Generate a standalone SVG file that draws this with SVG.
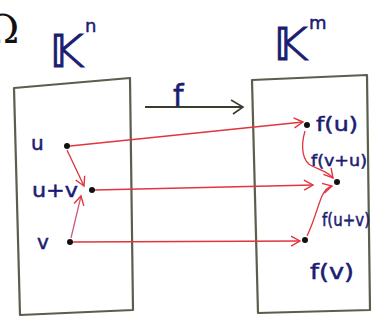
<svg xmlns="http://www.w3.org/2000/svg" width="378" height="321" viewBox="0 0 378 321">
<style>
.box{fill:none;stroke:#5b5e4c;stroke-width:2.2;stroke-linejoin:round}
.lbl{font-family:"DejaVu Sans",sans-serif;fill:#1c1c72;stroke:#1c1c72;stroke-width:0.5}
.red{fill:none;stroke:#e2343e;stroke-width:1.3}
.dot{fill:#111}
</style>
<defs>
<marker id="ar" markerWidth="12" markerHeight="12" refX="10" refY="6" orient="auto" markerUnits="userSpaceOnUse">
<path d="M1,1 L10,6 L1,11" fill="none" stroke="#e2343e" stroke-width="1.4"/>
</marker>
<marker id="ak" markerWidth="16" markerHeight="16" refX="14" refY="8" orient="auto" markerUnits="userSpaceOnUse">
<path d="M2,1 L14,8 L4,15" fill="none" stroke="#3a3d2e" stroke-width="1.6"/>
</marker>
</defs>
<rect width="378" height="321" fill="#fff"/>
<text x="-14" y="43" style="font-family:'DejaVu Serif',serif;font-size:40px;fill:#111">Ω</text>
<g id="domain">
<path class="box" d="M14,88 L130,78 L133,310 L20,315 Z"/>
<text class="lbl" x="50" y="67" style="font-size:44px;stroke-width:1">𝕂</text>
<text class="lbl" x="85" y="32" style="font-size:18px">n</text>
</g>
<g id="codomain">
<path class="box" d="M252,80 L367,75 L370,310 L258,313 Z"/>
<text class="lbl" x="274" y="60" style="font-size:44px;stroke-width:1">𝕂</text>
<text class="lbl" x="309" y="29" style="font-size:18px">m</text>
</g>
<g id="u"><circle class="dot" cx="67" cy="146" r="3"/><text class="lbl" x="31" y="150" style="font-size:20px">u</text></g>
<g id="uv"><circle class="dot" cx="92" cy="190" r="3"/><text class="lbl" x="32" y="197" style="font-size:20px" textLength="46" lengthAdjust="spacingAndGlyphs">u+v</text></g>
<g id="v"><circle class="dot" cx="70" cy="242" r="3"/><text class="lbl" x="37" y="249" style="font-size:20px">v</text></g>
<g id="fu"><circle class="dot" cx="307" cy="125" r="3"/><text class="lbl" x="316" y="131" style="font-size:20px" textLength="42" lengthAdjust="spacingAndGlyphs">f(u)</text></g>
<g id="fuv"><circle class="dot" cx="337" cy="182" r="3"/><text class="lbl" x="311" y="166" style="font-size:16px" textLength="56" lengthAdjust="spacingAndGlyphs">f(v+u)</text></g>
<g id="fv"><circle class="dot" cx="305" cy="240" r="3"/><text class="lbl" x="310" y="279" style="font-size:22px" textLength="44" lengthAdjust="spacingAndGlyphs">f(v)</text></g>
<text class="lbl" x="322" y="226" style="font-size:17px" textLength="48" lengthAdjust="spacingAndGlyphs">f(u+v)</text>
<g id="connectors">
<path d="M145,107 L243,107" fill="none" stroke="#3a3d2e" stroke-width="1.8" marker-end="url(#ak)"/>
<text class="lbl" x="173" y="106" style="font-size:30px">f</text>
<path class="red" d="M70,146 L303,122" marker-end="url(#ar)"/>
<path class="red" d="M95,190 L313,185" marker-end="url(#ar)"/>
<path class="red" d="M73,242 L300,241" marker-end="url(#ar)"/>
<path class="red" d="M67,150 L84,186" marker-end="url(#ar)" style="stroke:#d8343a"/>
<path class="red" d="M71,238 L81,196" marker-end="url(#ar)" style="stroke:#c8607a"/>
<path class="red" d="M305,131 C300,148 303,162 312,166 C320,170 328,172 333,178" marker-end="url(#ar)"/>
<path class="red" d="M307,236 C314,222 318,205 322,196 C325,190 328,187 332,186" marker-end="url(#ar)"/>
</g>
</svg>
